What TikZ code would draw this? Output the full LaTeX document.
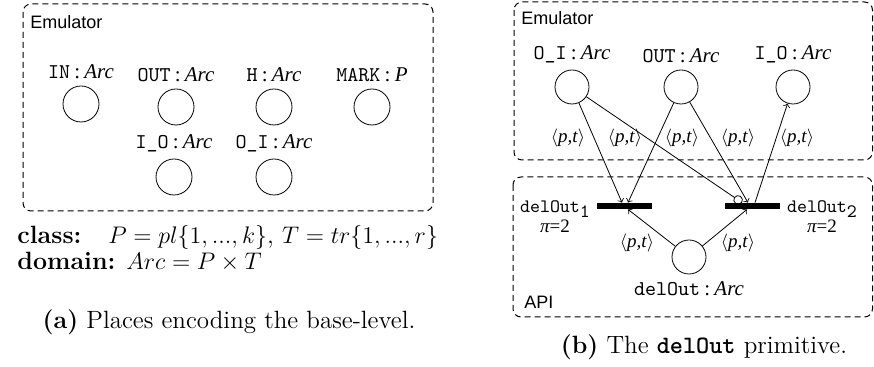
\documentclass[tikz,border=0pt]{standalone}
\usepackage{fontspec}
\newfontfamily\hlv{Liberation Sans}
\newfontfamily\tms{Liberation Serif}
\usepackage{tikz}
\usetikzlibrary{arrows}
\usetikzlibrary{positioning}

\newcommand{\plbl}[2]{{\ttfamily #1}\hspace{0.2em}{\tms :}\hspace{0.2em}{\tms\itshape #2}}
\newcommand{\arclbl}{{\tms$\langle$\textit{p,t}$\rangle$}}

\tikzset{
  place/.style={circle, draw, thin, minimum size=17pt, inner sep=0pt},
  trans/.style={fill=black, minimum width=27.5pt, minimum height=3pt, inner sep=0pt},
  frame/.style={draw, dash pattern=on 3pt off 2pt, rounded corners=4pt, line width=0.5pt},
  plabel/.style={font=\fontsize{10.5}{12}\selectfont},
  arclabel/.style={font=\fontsize{9.5}{11}\selectfont, inner sep=0pt},
  boxtitle/.style={font=\hlv\fontsize{9}{11}\selectfont, anchor=west, inner sep=0pt},
  tlabel/.style={font=\fontsize{9.5}{10}\selectfont, align=center, inner sep=0pt},
  body/.style={font=\fontsize{12.5}{15}\selectfont, anchor=base west, inner sep=0pt},
  caption/.style={font=\fontsize{12.5}{15}\selectfont},
}

\begin{document}
\begin{tikzpicture}[x=0.5pt,y=-0.5pt]
    \useasboundingbox (0,0) rectangle (874,367);
    % (a) places of the emulator
    \draw[frame] (23,4) rectangle (433,211);
    \node[boxtitle] (emua) at (30,22) {Emulator};
    \node[place, minimum size=18pt, label={[plabel]above:\plbl{IN}{Arc}}] (in) at (81,104) {};
    \node[place, minimum size=18pt, label={[plabel]above:\plbl{OUT}{Arc}}] (out) at (176,107) {};
    \node[place, minimum size=18pt, label={[plabel]above:\plbl{H}{Arc}}] (h) at (274,107) {};
    \node[place, minimum size=18pt, label={[plabel]above:\plbl{MARK}{P}}] (mark) at (372,107) {};
    \node[place, minimum size=18pt, label={[plabel]above:\plbl{I\_O}{Arc}}] (io) at (174,177) {};
    \node[place, minimum size=18pt, label={[plabel]above:\plbl{O\_I}{Arc}}] (oi) at (274,177) {};
    \node[body] (cls) at (17,244) {\textbf{class:}};
    \node[body] (clsv) at (108,244) {$P=pl\{1,...,k\}$, $T=tr\{1,...,r\}$};
    \node[body] (dom) at (17,270) {\textbf{domain:} $Arc=P\times T$};
    \node[caption] (capa) at (229,322) {\textbf{(a)} Places encoding the base-level.};
    % (b) the delOut primitive
    \begin{scope}
    \draw[frame] (514,2) rectangle (872.5,160);
    \draw[frame] (513,177) rectangle (872.5,317);
    \node[boxtitle] (emub) at (521,18) {Emulator};
    \node[boxtitle] (api) at (524,302) {API};
    \node[place, label={[plabel]above:\plbl{O\_I}{Arc}}] (boi) at (572,87) {};
    \node[place, label={[plabel]above:\plbl{OUT}{Arc}}] (bout) at (681,87) {};
    \node[place, label={[plabel]above:\plbl{I\_O}{Arc}}] (bio) at (793,87) {};
    \node[place, label={[plabel]below:\plbl{delOut}{Arc}}] (del) at (689,257) {};
    \node[trans] (t1) at (624.5,206) {};
    \node[trans] (t2) at (752.5,206) {};
    \node[tlabel] (t1lab) at (555,217) {{\ttfamily delOut}\raisebox{-0.6ex}{\ttfamily 1}\\{\tms\itshape π}{\tms =2}};
    \node[tlabel] (t2lab) at (822,217) {{\ttfamily delOut}\raisebox{-0.6ex}{\ttfamily 2}\\{\tms\itshape π}{\tms =2}};
    \draw[->] (boi) -- ([xshift=-1.25pt]t1.north);
    \draw[->] (bout) -- ([xshift=1.75pt]t1.north);
    \draw[-o] (boi) -- ([xshift=-5.25pt]t2.north);
    \draw[->] (bout) -- ([xshift=-2.25pt]t2.north);
    \draw[->] ([xshift=1.25pt]t2.north) -- (bio);
    \draw[->] (del) -- ([xshift=1.75pt]t1.south);
    \draw[->] (del) -- ([xshift=-2.75pt]t2.south);
    \node[arclabel] (a1) at (568,138) {\arclbl};
    \node[arclabel] (a2) at (625,138) {\arclbl};
    \node[arclabel] (a3) at (682,138) {\arclbl};
    \node[arclabel] (a4) at (738,138) {\arclbl};
    \node[arclabel] (a5) at (797,138) {\arclbl};
    \node[arclabel] (a6) at (637,243) {\arclbl};
    \node[arclabel] (a7) at (738,243) {\arclbl};
    \end{scope}
    \node[caption] (capb) at (704,347) {\textbf{(b)} The \textbf{\texttt{delOut}} primitive.};
  \end{tikzpicture}
\end{document}
